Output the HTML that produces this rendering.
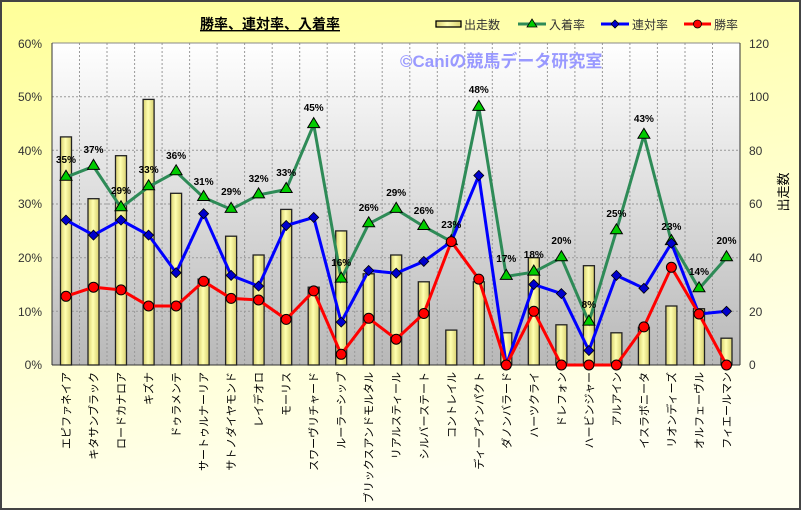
<!DOCTYPE html><html><head><meta charset="utf-8"><style>body{margin:0}svg{display:block}</style></head><body>
<svg width="801" height="510" xmlns="http://www.w3.org/2000/svg" font-family="'Liberation Sans','Noto Sans CJK JP',sans-serif">
<defs>
<linearGradient id="bg" x1="0" y1="0" x2="0.3" y2="1"><stop offset="0" stop-color="#ffff99"/><stop offset="1" stop-color="#fffff0"/></linearGradient>
<linearGradient id="pl" x1="0" y1="0" x2="0" y2="1"><stop offset="0" stop-color="#ffffff"/><stop offset="1" stop-color="#b8b8b8"/></linearGradient>
<linearGradient id="bar" x1="0" y1="0" x2="1" y2="0"><stop offset="0" stop-color="#d8d070"/><stop offset="0.45" stop-color="#ffffb0"/><stop offset="1" stop-color="#d8d070"/></linearGradient>
</defs>
<rect x="1" y="1" width="799" height="508" fill="url(#bg)" stroke="#444" stroke-width="2"/>
<rect x="52" y="43" width="688" height="322" fill="url(#pl)"/>
<g stroke="#999" stroke-dasharray="2,2" stroke-width="1">
<line x1="52" x2="740" y1="96.7" y2="96.7"/><line x1="52" x2="740" y1="150.3" y2="150.3"/><line x1="52" x2="740" y1="204" y2="204"/><line x1="52" x2="740" y1="257.7" y2="257.7"/><line x1="52" x2="740" y1="311.3" y2="311.3"/>
<line x1="79.5" x2="79.5" y1="43" y2="365"/><line x1="107" x2="107" y1="43" y2="365"/><line x1="134.6" x2="134.6" y1="43" y2="365"/><line x1="162.1" x2="162.1" y1="43" y2="365"/><line x1="189.6" x2="189.6" y1="43" y2="365"/><line x1="217.1" x2="217.1" y1="43" y2="365"/><line x1="244.6" x2="244.6" y1="43" y2="365"/><line x1="272.2" x2="272.2" y1="43" y2="365"/><line x1="299.7" x2="299.7" y1="43" y2="365"/><line x1="327.2" x2="327.2" y1="43" y2="365"/><line x1="354.7" x2="354.7" y1="43" y2="365"/><line x1="382.2" x2="382.2" y1="43" y2="365"/><line x1="409.8" x2="409.8" y1="43" y2="365"/><line x1="437.3" x2="437.3" y1="43" y2="365"/><line x1="464.8" x2="464.8" y1="43" y2="365"/><line x1="492.3" x2="492.3" y1="43" y2="365"/><line x1="519.8" x2="519.8" y1="43" y2="365"/><line x1="547.4" x2="547.4" y1="43" y2="365"/><line x1="574.9" x2="574.9" y1="43" y2="365"/><line x1="602.4" x2="602.4" y1="43" y2="365"/><line x1="629.9" x2="629.9" y1="43" y2="365"/><line x1="657.4" x2="657.4" y1="43" y2="365"/><line x1="685" x2="685" y1="43" y2="365"/><line x1="712.5" x2="712.5" y1="43" y2="365"/>
</g>
<line x1="52" y1="43" x2="740" y2="43" stroke="#888"/>
<line x1="52" y1="43" x2="52" y2="365" stroke="#333"/>
<line x1="740" y1="43" x2="740" y2="365" stroke="#333"/>
<line x1="52" y1="365" x2="740" y2="365" stroke="#333"/>
<text x="400" y="67" font-size="17" font-weight="bold" fill="#9999ff">©Caniの競馬データ研究室</text>
<g fill="url(#bar)" stroke="#222" stroke-width="1.3">
<rect x="60.5" y="136.9" width="11" height="228.1"/><rect x="88" y="198.7" width="11" height="166.3"/><rect x="115.5" y="155.7" width="11" height="209.3"/><rect x="143.1" y="99.4" width="11" height="265.6"/><rect x="170.6" y="193.3" width="11" height="171.7"/><rect x="198.1" y="279.1" width="11" height="85.9"/><rect x="225.6" y="236.2" width="11" height="128.8"/><rect x="253.1" y="255" width="11" height="110"/><rect x="280.7" y="209.4" width="11" height="155.6"/><rect x="308.2" y="287.2" width="11" height="77.8"/><rect x="335.7" y="230.9" width="11" height="134.1"/><rect x="363.2" y="273.8" width="11" height="91.2"/><rect x="390.7" y="255" width="11" height="110"/><rect x="418.3" y="281.8" width="11" height="83.2"/><rect x="445.8" y="330.1" width="11" height="34.9"/><rect x="473.3" y="281.8" width="11" height="83.2"/><rect x="500.8" y="332.8" width="11" height="32.2"/><rect x="528.3" y="257.7" width="11" height="107.3"/><rect x="555.9" y="324.8" width="11" height="40.2"/><rect x="583.4" y="265.7" width="11" height="99.3"/><rect x="610.9" y="332.8" width="11" height="32.2"/><rect x="638.4" y="327.4" width="11" height="37.6"/><rect x="665.9" y="306" width="11" height="59"/><rect x="693.5" y="308.7" width="11" height="56.3"/><rect x="721" y="338.2" width="11" height="26.8"/>
</g>
<polyline fill="none" stroke="#2e8b57" stroke-width="3" points="66,177.2 93.5,166.4 121,207.7 148.6,186.8 176.1,171.8 203.6,197.5 231.1,209.4 258.6,194.9 286.2,189.5 313.7,124.6 341.2,279.1 368.7,223.8 396.2,209.4 423.8,226.5 451.3,241.6 478.8,107.4 506.3,276.4 533.8,272.1 561.4,257.7 588.9,322.1 616.4,230.8 643.9,135.3 671.4,241.6 699,288.8 726.5,257.7"/>
<g fill="#00cc00" stroke="#000" stroke-width="1">
<path d="M66,170.2l6,10h-12z"/><path d="M93.5,159.4l6,10h-12z"/><path d="M121,200.7l6,10h-12z"/><path d="M148.6,179.8l6,10h-12z"/><path d="M176.1,164.8l6,10h-12z"/><path d="M203.6,190.5l6,10h-12z"/><path d="M231.1,202.4l6,10h-12z"/><path d="M258.6,187.9l6,10h-12z"/><path d="M286.2,182.5l6,10h-12z"/><path d="M313.7,117.6l6,10h-12z"/><path d="M341.2,272.1l6,10h-12z"/><path d="M368.7,216.8l6,10h-12z"/><path d="M396.2,202.4l6,10h-12z"/><path d="M423.8,219.5l6,10h-12z"/><path d="M451.3,234.6l6,10h-12z"/><path d="M478.8,100.4l6,10h-12z"/><path d="M506.3,269.4l6,10h-12z"/><path d="M533.8,265.1l6,10h-12z"/><path d="M561.4,250.7l6,10h-12z"/><path d="M588.9,315.1l6,10h-12z"/><path d="M616.4,223.8l6,10h-12z"/><path d="M643.9,128.3l6,10h-12z"/><path d="M671.4,234.6l6,10h-12z"/><path d="M699,281.8l6,10h-12z"/><path d="M726.5,250.7l6,10h-12z"/>
</g>
<polyline fill="none" stroke="#0000ff" stroke-width="3" points="66,220.1 93.5,235.1 121,220.1 148.6,235.1 176.1,272.7 203.6,213.7 231.1,275.4 258.6,286.1 286.2,225.5 313.7,217.4 341.2,322.1 368.7,270.5 396.2,273.2 423.8,261.4 451.3,241.6 478.8,175.5 506.3,365 533.8,284.5 561.4,293.6 588.9,350.5 616.4,275.4 643.9,288.3 671.4,243.2 699,314 726.5,311.3"/>
<g fill="#0000cc" stroke="#000" stroke-width="0.8">
<path d="M66,215.1l5,5l-5,5l-5,-5z"/><path d="M93.5,230.1l5,5l-5,5l-5,-5z"/><path d="M121,215.1l5,5l-5,5l-5,-5z"/><path d="M148.6,230.1l5,5l-5,5l-5,-5z"/><path d="M176.1,267.7l5,5l-5,5l-5,-5z"/><path d="M203.6,208.7l5,5l-5,5l-5,-5z"/><path d="M231.1,270.4l5,5l-5,5l-5,-5z"/><path d="M258.6,281.1l5,5l-5,5l-5,-5z"/><path d="M286.2,220.5l5,5l-5,5l-5,-5z"/><path d="M313.7,212.4l5,5l-5,5l-5,-5z"/><path d="M341.2,317.1l5,5l-5,5l-5,-5z"/><path d="M368.7,265.5l5,5l-5,5l-5,-5z"/><path d="M396.2,268.2l5,5l-5,5l-5,-5z"/><path d="M423.8,256.4l5,5l-5,5l-5,-5z"/><path d="M451.3,236.6l5,5l-5,5l-5,-5z"/><path d="M478.8,170.5l5,5l-5,5l-5,-5z"/><path d="M506.3,360l5,5l-5,5l-5,-5z"/><path d="M533.8,279.5l5,5l-5,5l-5,-5z"/><path d="M561.4,288.6l5,5l-5,5l-5,-5z"/><path d="M588.9,345.5l5,5l-5,5l-5,-5z"/><path d="M616.4,270.4l5,5l-5,5l-5,-5z"/><path d="M643.9,283.3l5,5l-5,5l-5,-5z"/><path d="M671.4,238.2l5,5l-5,5l-5,-5z"/><path d="M699,309l5,5l-5,5l-5,-5z"/><path d="M726.5,306.3l5,5l-5,5l-5,-5z"/>
</g>
<polyline fill="none" stroke="#ff0000" stroke-width="3" points="66,296.3 93.5,287.2 121,289.9 148.6,306 176.1,306 203.6,281.3 231.1,298.4 258.6,300 286.2,319.4 313.7,290.9 341.2,354.3 368.7,318.3 396.2,339.2 423.8,313.5 451.3,241.6 478.8,279.1 506.3,365 533.8,311.3 561.4,365 588.9,365 616.4,365 643.9,326.9 671.4,267.3 699,314 726.5,365"/>
<g fill="#ff0000" stroke="#000" stroke-width="1">
<circle cx="66" cy="296.3" r="5"/><circle cx="93.5" cy="287.2" r="5"/><circle cx="121" cy="289.9" r="5"/><circle cx="148.6" cy="306" r="5"/><circle cx="176.1" cy="306" r="5"/><circle cx="203.6" cy="281.3" r="5"/><circle cx="231.1" cy="298.4" r="5"/><circle cx="258.6" cy="300" r="5"/><circle cx="286.2" cy="319.4" r="5"/><circle cx="313.7" cy="290.9" r="5"/><circle cx="341.2" cy="354.3" r="5"/><circle cx="368.7" cy="318.3" r="5"/><circle cx="396.2" cy="339.2" r="5"/><circle cx="423.8" cy="313.5" r="5"/><circle cx="451.3" cy="241.6" r="5"/><circle cx="478.8" cy="279.1" r="5"/><circle cx="506.3" cy="365" r="5"/><circle cx="533.8" cy="311.3" r="5"/><circle cx="561.4" cy="365" r="5"/><circle cx="588.9" cy="365" r="5"/><circle cx="616.4" cy="365" r="5"/><circle cx="643.9" cy="326.9" r="5"/><circle cx="671.4" cy="267.3" r="5"/><circle cx="699" cy="314" r="5"/><circle cx="726.5" cy="365" r="5"/>
</g>
<g font-size="10" font-weight="bold" text-anchor="middle" fill="#000">
<text x="66" y="163">35%</text><text x="93.5" y="153">37%</text><text x="121" y="194">29%</text><text x="148.6" y="173">33%</text><text x="176.1" y="159">36%</text><text x="203.6" y="185">31%</text><text x="231.1" y="195">29%</text><text x="258.6" y="182">32%</text><text x="286.2" y="176">33%</text><text x="313.7" y="111">45%</text><text x="341.2" y="266">16%</text><text x="368.7" y="211">26%</text><text x="396.2" y="196">29%</text><text x="423.8" y="214">26%</text><text x="451.3" y="228">23%</text><text x="478.8" y="93">48%</text><text x="506.3" y="262">17%</text><text x="533.8" y="258">18%</text><text x="561.4" y="244">20%</text><text x="588.9" y="308">8%</text><text x="616.4" y="217">25%</text><text x="643.9" y="122">43%</text><text x="671.4" y="230">23%</text><text x="699" y="275">14%</text><text x="726.5" y="244">20%</text>
</g>
<g font-size="12" fill="#333" text-anchor="end">
<text x="42" y="48">60%</text><text x="42" y="101">50%</text><text x="42" y="155">40%</text><text x="42" y="208">30%</text><text x="42" y="262">20%</text><text x="42" y="316">10%</text><text x="42" y="369">0%</text>
</g>
<g font-size="12" fill="#333">
<text x="749" y="48">120</text><text x="749" y="101">100</text><text x="749" y="155">80</text><text x="749" y="208">60</text><text x="749" y="262">40</text><text x="749" y="316">20</text><text x="749" y="369">0</text>
</g>
<text transform="translate(788,192) rotate(-90)" font-size="13" text-anchor="middle" fill="#000">出走数</text>
<text x="270" y="29" font-size="14" font-weight="bold" text-anchor="middle" fill="#000" text-decoration="underline">勝率、連対率、入着率</text>
<g font-size="12" fill="#333">
<rect x="436" y="21" width="25" height="6" fill="url(#bar)" stroke="#000" stroke-width="1.3"/><text x="464" y="29">出走数</text>
<line x1="518" y1="24" x2="546" y2="24" stroke="#2e8b57" stroke-width="3"/><path d="M532,19l5,8h-10z" fill="#00cc00" stroke="#000" stroke-width="0.8"/><text x="549" y="29">入着率</text>
<line x1="601" y1="24" x2="629" y2="24" stroke="#0000ff" stroke-width="3"/><path d="M615,20l4,4l-4,4l-4,-4z" fill="#0000cc" stroke="#000" stroke-width="0.8"/><text x="632" y="29">連対率</text>
<line x1="684" y1="24" x2="711" y2="24" stroke="#ff0000" stroke-width="3"/><circle cx="697.5" cy="24" r="4" fill="#ff0000" stroke="#000" stroke-width="0.8"/><text x="714" y="29">勝率</text>
</g>
<g font-size="11" fill="#000" text-anchor="end">
<text transform="translate(70,372) rotate(-90)">エピファネイア</text>
<text transform="translate(97.5,372) rotate(-90)">キタサンブラック</text>
<text transform="translate(125,372) rotate(-90)">ロードカナロア</text>
<text transform="translate(152.6,372) rotate(-90)">キズナ</text>
<text transform="translate(180.1,372) rotate(-90)">ドゥラメンテ</text>
<text transform="translate(207.6,372) rotate(-90)">サートゥルナーリア</text>
<text transform="translate(235.1,372) rotate(-90)">サトノダイヤモンド</text>
<text transform="translate(262.6,372) rotate(-90)">レイデオロ</text>
<text transform="translate(290.2,372) rotate(-90)">モーリス</text>
<text transform="translate(317.7,372) rotate(-90)">スワーヴリチャード</text>
<text transform="translate(345.2,372) rotate(-90)">ルーラーシップ</text>
<text transform="translate(372.7,372) rotate(-90)">ブリックスアンドモルタル</text>
<text transform="translate(400.2,372) rotate(-90)">リアルスティール</text>
<text transform="translate(427.8,372) rotate(-90)">シルバーステート</text>
<text transform="translate(455.3,372) rotate(-90)">コントレイル</text>
<text transform="translate(482.8,372) rotate(-90)">ディープインパクト</text>
<text transform="translate(510.3,372) rotate(-90)">ダノンバラード</text>
<text transform="translate(537.8,372) rotate(-90)">ハーツクライ</text>
<text transform="translate(565.4,372) rotate(-90)">ドレフォン</text>
<text transform="translate(592.9,372) rotate(-90)">ハービンジャー</text>
<text transform="translate(620.4,372) rotate(-90)">アルアイン</text>
<text transform="translate(647.9,372) rotate(-90)">イスラボニータ</text>
<text transform="translate(675.4,372) rotate(-90)">リオンディーズ</text>
<text transform="translate(703,372) rotate(-90)">オルフェーヴル</text>
<text transform="translate(730.5,372) rotate(-90)">フィエールマン</text>
</g>
</svg>
</body></html>
